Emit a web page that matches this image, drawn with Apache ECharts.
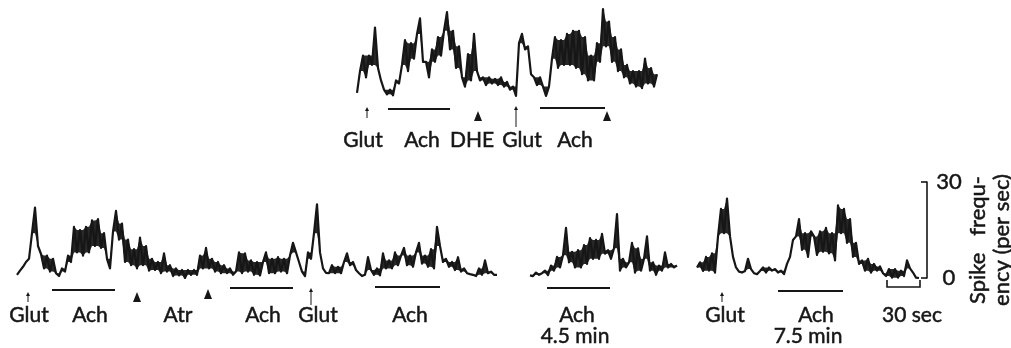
<!DOCTYPE html>
<html>
<head>
<meta charset="utf-8">
<script src="https://cdn.jsdelivr.net/npm/echarts@6/dist/echarts.min.js"></script>
<style>
  html, body { margin: 0; padding: 0; background: #fff; }
  #chart { width: 1011px; height: 348px; }
</style>
</head>
<body>
<div id="chart"></div>
<script>
// spike frequency (per sec), every few px
const topTrace = [
  2, 9, 14, 7, 14, 11, 23, 10, 6, 3,
  1.5, 3, 1.2, 6, 5, 11, 19, 9, 18, 13,
  21, 26, 12, 12, 7, 16, 12, 20, 14, 22,
  28, 16, 22, 10, 17, 7, 4, 14.5, 6, 21,
  9, 6, 7, 4.5, 7, 5, 6.5, 4.5, 7, 4,
  5.5, 3, 4, 1, 18, 21, 16, 17, 8, 7,
  4.5, 7, 4, 1, 4, 13, 20, 10, 19, 11,
  21, 11, 22, 10, 22, 8, 20, 6, 14, 6,
  18, 12, 29, 17, 25, 12, 20, 9, 16, 7,
  11, 5, 9, 4, 9, 3.5, 13, 5, 10, 4,
  8
]
const glutAchAtr = [
  1, 2.3, 3.5, 5, 6, 14, 22, 10, 7.5, 3,
  7, 2, 6, 1.5, 0.6, 3, 2, 7, 5, 16,
  8, 15, 7, 16, 8, 18, 10, 18.4, 9.4, 14,
  6, 3, 14.5, 21, 12, 17, 5, 12, 4, 9,
  3, 12.6, 4, 10, 2.3, 6, 2.5, 5, 1.5, 7.7,
  2, 4, 0.6, 3, 0.8, 2.5, 0, 2.5, 1, 2.5,
  1, 7, 3, 9.4, 3, 6, 2, 5, 1.5, 4,
  1.5, 3, 1, 2, 8, 1.5, 7.7, 2, 5.5, 1,
  5, 0.8, 5, 8, 1.5, 6, 1.5, 6.5, 2, 6,
  1.5, 7, 11, 8, 5, 2, 0.6, 8, 6, 14,
  23, 8, 3, 1.6, 1.5, 4, 1.5, 3.5, 1.5, 5,
  7.7, 4, 5, 2.5, 1.5, 0.6, 1, 6.5, 2.5, 1,
  3, 0.8, 7.7, 3, 5.5, 3, 8, 4, 7, 9.4,
  4, 7, 3.5, 8, 11, 4.5, 7, 3.5, 9, 3,
  16, 10, 5, 6, 3.5, 5, 2.5, 6.5, 2, 3,
  1.5, 1.2, 1, 0.6, 3, 1, 5.5, 1.5, 2, 1,
  1
]
const ach45 = [
  0.8, 0.6, 1.7, 1, 1.5, 2.3, 0.9, 3.9, 2.3, 6.6,
  3.3, 7.1, 15.7, 4.9, 8.2, 3.3, 8.7, 3.3, 10.3, 4.4,
  12.5, 6, 11.9, 6, 13.8, 7.6, 8.7, 6, 9.3, 20,
  2.3, 6, 3.3, 4.9, 11, 1.7, 9.3, 2.3, 6, 13,
  2.3, 4.9, 1, 3.9, 2.3, 8, 3.3, 4.4, 3.3, 3.9
]
const ach75 = [
  3.3, 4.9, 2.2, 6.6, 2.3, 7.7, 1.7, 13, 21.6, 14,
  24.8, 13, 6.6, 3.3, 2, 1.7, 2.2, 6, 2.8, 1.5,
  1.2, 2.2, 3.3, 1.7, 3.3, 2.3, 2.8, 1.7, 2.3, 1.2,
  4.4, 6.6, 11.9, 13, 18.4, 8.8, 14, 6.6, 14.6, 13,
  7.2, 14.6, 8.2, 15.7, 7.7, 14, 5.5, 22.7, 14, 21.6,
  11, 18.4, 6.6, 11, 4.4, 5.5, 2.3, 6, 1.7, 4.4,
  2.3, 3.6, 1.5, 0.6, 2.8, 0.1, 2.8, 0.1, 2.3, 0.6,
  5.5, 3, 1.7, 0.1, 0
]
const scaleTicks = [0, 30]

// event labels under the records
const labels = [
  ['Glut', 363, 140], ['Ach', 422, 140], ['DHE', 472, 140], ['Glut', 522, 140], ['Ach', 575, 140],
  ['Glut', 29, 315], ['Ach', 90, 315], ['Atr', 178, 315], ['Ach', 263, 315], ['Glut', 318, 315],
  ['Ach', 410, 315], ['Ach', 577, 315], ['4.5 min', 575, 336],
  ['Glut', 725, 315], ['Ach', 816, 315], ['7.5 min', 808, 336], ['30 sec', 912, 315]
]

const ink = '#161616'
const font = 'Lato, "Open Sans", sans-serif'

const traces = [topTrace, glutAchAtr, ach45, ach75]
const grids = [
  { left: 357, top: 6, width: 300, height: 93 },
  { left: 17, top: 182, width: 480, height: 96 },
  { left: 530, top: 182, width: 147, height: 96 },
  { left: 697, top: 182, width: 222, height: 96 }
].map(g => Object.assign(g, { outerBoundsMode: 'none' }))

const chart = echarts.init(document.getElementById('chart'))

const xAxis = traces.map((t, i) => ({
  type: 'category', gridIndex: i, show: false, boundaryGap: false,
  data: t.map((_, k) => k)
}))
const yAxis = traces.map((t, i) => ({
  type: 'value', gridIndex: i, min: 0, max: 30, show: false
}))
// last record carries the 0-30 calibration bracket
Object.assign(yAxis[3], {
  show: true,
  position: 'right',
  offset: 8,
  interval: 30,
  axisLine: { show: true, lineStyle: { color: ink, width: 1.6 } },
  axisTick: { show: true, inside: true, length: 6, lineStyle: { color: ink, width: 1.6 } },
  splitLine: { show: false },
  axisLabel: {
    show: true, color: ink, fontSize: 22, fontFamily: font, align: 'center', margin: 22,
    textBorderColor: ink, textBorderWidth: 0.5,
    formatter: v => scaleTicks.includes(v) ? String(v) : ''
  },
  name: 'Spike   frequ-\nency (per sec)',
  nameLocation: 'middle',
  nameRotate: 90,
  nameGap: 35,
  nameTextStyle: {
    color: ink, fontSize: 22, fontFamily: font, lineHeight: 24, padding: [0, 20, 0, 0],
    textBorderColor: ink, textBorderWidth: 0.5
  }
})

// the pen oscillates fast, so the record looks like a dark band:
// fill between the inner envelopes of neighbouring readings
function band(t) {
  const lo = [], hi = []
  t.forEach((v, k) => {
    const a = k > 0 ? t[k - 1] : v
    const b = k < t.length - 1 ? t[k + 1] : v
    hi.push(Math.min(Math.max(a, v), Math.max(v, b)))
    lo.push(Math.max(Math.min(a, v), Math.min(v, b)))
  })
  return { lo, width: hi.map((h, k) => h - lo[k]) }
}

const series = []
traces.forEach((t, i) => {
  const b = band(t)
  series.push({
    type: 'line', xAxisIndex: i, yAxisIndex: i, data: b.lo, stack: 'band' + i,
    symbol: 'none', lineStyle: { opacity: 0 }, silent: true
  })
  series.push({
    type: 'line', xAxisIndex: i, yAxisIndex: i, data: b.width, stack: 'band' + i,
    symbol: 'none', lineStyle: { opacity: 0 }, areaStyle: { color: ink, opacity: 0.92 }, silent: true
  })
  series.push({
    type: 'line', xAxisIndex: i, yAxisIndex: i, data: t,
    symbol: 'none', lineStyle: { color: ink, width: 2.2, join: 'round' }
  })
})

// markers: Glut arrows, Ach bars, blocker triangles, 30 sec bar
const arrows = [[367, 107, 118], [516, 106, 127], [28, 292, 302], [311, 288, 305], [722, 292, 302]]
const bars = [[388, 450, 109], [540, 605, 108], [52, 115, 290], [230, 293, 288], [375, 440, 287], [547, 610, 288], [778, 843, 291]]
const triangles = [[478, 121], [607, 121], [137, 302], [208, 299]]

const graphic = []
arrows.forEach(([x, y1, y2]) => {
  graphic.push({ type: 'line', shape: { x1: x, y1: y1 + 3, x2: x, y2: y2 }, style: { stroke: ink, lineWidth: 1 } })
  graphic.push({ type: 'polygon', shape: { points: [[x - 2, y1 + 4], [x, y1], [x + 2, y1 + 4]] }, style: { fill: ink } })
})
bars.forEach(([x1, x2, y]) => {
  graphic.push({ type: 'line', shape: { x1, y1: y, x2, y2: y }, style: { stroke: ink, lineWidth: 1.8 } })
})
triangles.forEach(([x, y]) => {
  graphic.push({ type: 'polygon', shape: { points: [[x - 4, y], [x + 4, y], [x, y - 10]] }, style: { fill: ink } })
})
graphic.push({
  type: 'polyline',
  shape: { points: [[887, 280], [887, 287], [920, 287], [920, 280]] },
  style: { stroke: ink, lineWidth: 1.6, fill: null }
})
labels.forEach(([text, x, y]) => {
  graphic.push({
    type: 'text', x, y,
    style: {
      text, fill: ink, font: '21px ' + font, align: 'center', verticalAlign: 'middle',
      stroke: ink, lineWidth: 0.5
    }
  })
})

chart.setOption({
  backgroundColor: '#fff',
  animation: false,
  grid: grids,
  xAxis,
  yAxis,
  series,
  graphic
})
</script>
</body>
</html>
